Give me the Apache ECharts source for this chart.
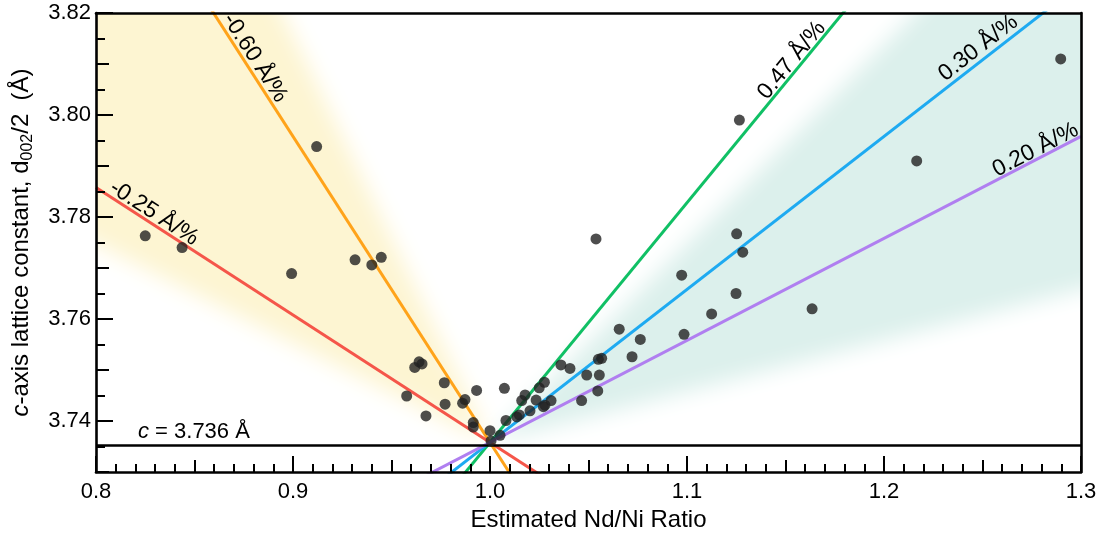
<!DOCTYPE html>
<html><head><meta charset="utf-8">
<script src="https://cdn.jsdelivr.net/npm/echarts@6/dist/echarts.min.js"></script>
<style>html,body{margin:0;padding:0;background:#fff}#c{width:1104px;height:534px}</style>
</head><body><div id="c"></div>
<script>
// ---- data ----
const ratio = [0.825,0.8437,0.8993,0.912,0.9315,0.94,0.9448,0.9577,0.9618,0.964,0.9655,0.9675,0.9768,0.9772,0.9861,0.9873,0.9915,0.9915,0.9932,1.0,1.0005,1.0051,1.0073,1.0081,1.0136,1.0149,1.0161,1.0178,1.0203,1.0234,1.025,1.0276,1.0271,1.0279,1.031,1.036,1.0406,1.0465,1.0491,1.0538,1.0547,1.055,1.0555,1.0567,1.0656,1.0721,1.0763,1.0973,1.0985,1.1125,1.1249,1.1252,1.1266,1.1283,1.1635,1.2166,1.2897];
const cAxis = [3.7763,3.774,3.7689,3.7938,3.7716,3.7706,3.7721,3.7449,3.7505,3.7516,3.7512,3.741,3.7475,3.7433,3.7435,3.7442,3.7397,3.7388,3.746,3.7381,3.7361,3.7372,3.7464,3.7401,3.7408,3.7412,3.744,3.7451,3.742,3.7441,3.7465,3.7476,3.7428,3.7431,3.744,3.751,3.7503,3.744,3.749,3.7757,3.7459,3.7521,3.749,3.7523,3.758,3.7526,3.756,3.7686,3.757,3.761,3.765,3.7767,3.799,3.7731,3.762,3.791,3.811];
const pivot = [1.0, 3.7358];
const slopes = [-0.60, -0.25, 0.47, 0.30, 0.20];
const slopeLabels = ['-0.60 Å/%', '-0.25 Å/%', '0.47 Å/%', '0.30 Å/%', '0.20 Å/%'];
const cValue = 3.7352;
const cText = '3.736';
const yellowBand = [-0.80, -0.195];
const tealBand = [0.10, 0.39];
const xTicks = [0.8, 0.9, 1.0, 1.1, 1.2, 1.3];
const yTicks = [3.74, 3.76, 3.78, 3.80, 3.82];

// ---- styles / layout ----
const lineColors = ['#ffa31a', '#f5564a', '#10c065', '#1eaaf1', '#b07ff0'];
const labelAnchorX = [0.8762, 0.8267, 1.1569, 1.2516, 1.279];
const labelOffset = [10.5, 10, 9.5, 12, 9];
const FONT = '"Liberation Sans", Arial, Helvetica, sans-serif';
const X0 = 0.8, X1 = 1.3, Y0 = 3.73, Y1 = 3.82;

const chart = echarts.init(document.getElementById('c'), null, {renderer: 'canvas'});

function wedge(color, farX) {
  return function (params, api) {
    const px = api.value(0), py = api.value(1), s1 = api.value(2), s2 = api.value(3);
    const p0 = api.coord([px, py]);
    const a = api.coord([farX, py + s1 * (farX - px)]);
    const b = api.coord([farX, py + s2 * (farX - px)]);
    const OFF = 4000;
    return {
      type: 'polygon',
      shape: {points: [[p0[0] + OFF, p0[1]], [a[0] + OFF, a[1]], [b[0] + OFF, b[1]]]},
      style: {fill: color, shadowBlur: 22, shadowColor: color, shadowOffsetX: -OFF, shadowOffsetY: 0},
      silent: true
    };
  };
}

const fitSeries = slopes.map((s, i) => ({
  type: 'line', xAxisIndex: 0, yAxisIndex: 0, silent: true, clip: true, z: 3,
  showSymbol: false, symbol: 'none',
  lineStyle: {color: lineColors[i], width: 3},
  data: [[X0, pivot[1] + s * (X0 - pivot[0])], [X1, pivot[1] + s * (X1 - pivot[0])]]
}));

const axisBlack = {lineStyle: {color: '#000', width: 2.6}};
const option = {
  animation: false,
  textStyle: {fontFamily: FONT},
  grid: {left: 96, right: 23, top: 13, bottom: 62, show: false, outerBoundsMode: 'none', containLabel: false},
  xAxis: [
    {type: 'value', min: X0, max: X1, interval: 0.1, position: 'bottom', offset: 0, z: 10,
     axisLine: {show: true, onZero: false, ...axisBlack},
     axisTick: {show: true, inside: true, length: 16, lineStyle: {color: '#000', width: 2}},
     minorTick: {show: true, splitNumber: 10, length: 8, lineStyle: {color: '#000', width: 2}},
     splitLine: {show: false}, minorSplitLine: {show: false},
     axisLabel: {show: true, fontSize: 22, color: '#000', margin: 9, fontFamily: FONT,
       customValues: xTicks, formatter: v => Number(v).toFixed(1)},
     name: 'Estimated Nd/Ni Ratio', nameLocation: 'middle', nameGap: 33,
     nameTextStyle: {fontSize: 24, color: '#000', fontFamily: FONT}},
    {type: 'value', min: X0, max: X1, interval: 0.05, position: 'bottom', offset: 0, z: 10,
     axisLine: {show: false}, axisLabel: {show: false}, splitLine: {show: false},
     axisTick: {show: true, inside: true, length: 12, lineStyle: {color: '#000', width: 2}}},
    {type: 'value', min: X0, max: X1, position: 'top', offset: 0, z: 10,
     axisLine: {show: true, onZero: false, ...axisBlack}, axisTick: {show: false},
     axisLabel: {show: false}, splitLine: {show: false}}
  ],
  yAxis: [
    {type: 'value', min: Y0, max: Y1, interval: 0.01, position: 'left', offset: 0, z: 10,
     axisLine: {show: true, onZero: false, ...axisBlack},
     axisTick: {show: true, inside: true, length: 13, lineStyle: {color: '#000', width: 2}},
     minorTick: {show: true, splitNumber: 2, length: 9, lineStyle: {color: '#000', width: 2}},
     splitLine: {show: false}, minorSplitLine: {show: false},
     axisLabel: {show: true, fontSize: 22, color: '#000', margin: 5, fontFamily: FONT,
       customValues: yTicks, formatter: v => Number(v).toFixed(2)},
     name: '{i|c}-axis lattice constant, d{sub|002}/2  (Å)', nameLocation: 'middle', nameGap: 60,
     nameTextStyle: {fontSize: 24, color: '#000', fontFamily: FONT,
       rich: {i: {fontStyle: 'italic', fontSize: 24, color: '#000', fontFamily: FONT},
              sub: {fontSize: 16, color: '#000', fontFamily: FONT, verticalAlign: 'bottom', lineHeight: 30}}}},
    {type: 'value', min: Y0, max: Y1, position: 'left', offset: 0, z: 10,
     axisLine: {show: false}, splitLine: {show: false},
     axisLabel: {show: false, customValues: yTicks},
     axisTick: {show: true, inside: true, length: 17, customValues: yTicks, lineStyle: {color: '#000', width: 2}}},
    {type: 'value', min: Y0, max: Y1, position: 'right', offset: 0, z: 10,
     axisLine: {show: true, onZero: false, ...axisBlack}, axisTick: {show: false},
     axisLabel: {show: false}, splitLine: {show: false}}
  ],
  series: [
    {type: 'custom', xAxisIndex: 0, yAxisIndex: 0, clip: true, silent: true, z: 1,
     encode: {x: 0, y: 1}, renderItem: wedge('#fdf5d2', 0.4),
     data: [[pivot[0], pivot[1], yellowBand[0], yellowBand[1]]]},
    {type: 'custom', xAxisIndex: 0, yAxisIndex: 0, clip: true, silent: true, z: 1,
     encode: {x: 0, y: 1}, renderItem: wedge('#dcf0ec', 1.7),
     data: [[pivot[0], pivot[1], tealBand[0], tealBand[1]]]},
    ...fitSeries,
    {type: 'scatter', xAxisIndex: 0, yAxisIndex: 0, z: 5, silent: true,
     symbol: 'circle', symbolSize: 11, itemStyle: {color: '#222222'},
     data: ratio.map((x, i) => [x, cAxis[i]]),
     markLine: {silent: true, symbol: 'none', animation: false, precision: 4,
       lineStyle: {color: '#000', width: 2.6, type: 'solid'}, label: {show: false},
       data: [{yAxis: cValue}]}}
  ]
};
chart.setOption(option);

// ---- labels along the fitted lines ----
const toPx = p => chart.convertToPixel({xAxisIndex: 0, yAxisIndex: 0}, p);
const graphics = slopes.map((s, i) => {
  const ax = labelAnchorX[i];
  const p1 = toPx([ax, pivot[1] + s * (ax - pivot[0])]);
  const p2 = toPx([ax + 0.01, pivot[1] + s * (ax + 0.01 - pivot[0])]);
  const th = Math.atan2(-(p2[1] - p1[1]), p2[0] - p1[0]);
  const d = labelOffset[i];
  return {type: 'text', z: 100, x: p1[0] - Math.sin(th) * d, y: p1[1] - Math.cos(th) * d,
    rotation: th, silent: true,
    style: {text: slopeLabels[i], fontSize: 23, fontFamily: FONT, fill: '#000', align: 'center', verticalAlign: 'middle'}};
});
const cp = toPx([0.8213, cValue]);
graphics.push({type: 'text', z: 100, x: cp[0], y: cp[1] - 3, silent: true,
  style: {text: '{i|c} = ' + cText + ' Å', fontSize: 22, fontFamily: FONT, fill: '#000', align: 'left', verticalAlign: 'bottom',
    rich: {i: {fontStyle: 'italic', fontSize: 22, fontFamily: FONT, fill: '#000'}}}});
chart.setOption({graphic: graphics});
</script>
</body></html>
